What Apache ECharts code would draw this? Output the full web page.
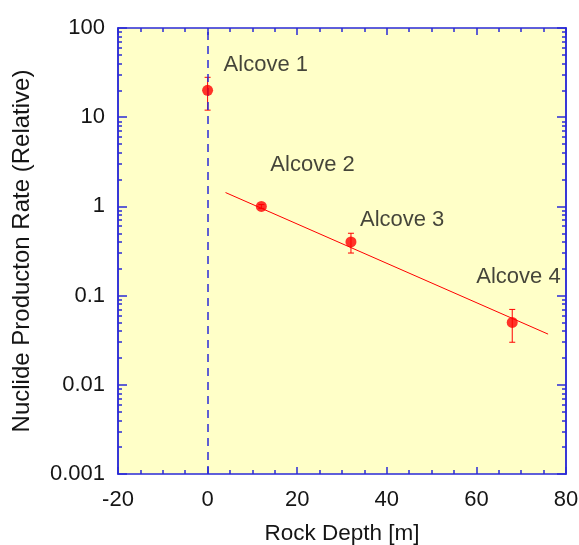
<!DOCTYPE html>
<html>
<head>
<meta charset="utf-8">
<script src="https://cdn.jsdelivr.net/npm/echarts@6/dist/echarts.min.js"></script>
<style>
  html, body { margin: 0; padding: 0; background: #fff; }
  #chart { width: 579px; height: 545px; }
</style>
</head>
<body>
<div id="chart"></div>
<script>
// measured points
const depth = [0, 12, 32, 68];
const rate = [20, 1.0, 0.4, 0.05];
const rateLow = [12, 0.95, 0.3, 0.03];
const rateHigh = [28, 1.05, 0.5, 0.07];
const pointNames = ["Alcove 1", "Alcove 2", "Alcove 3", "Alcove 4"];
// label offsets from the point (px)
const labelOffsets = [[16, -25], [9, -41], [9, -22], [-36, -46]];

// exponential fit line
const fitDepth = [4, 76];
const fitRate = [1.43, 0.037];

// axes
const xMin = -20, xMax = 80, xStep = 20;
const yMin = 0.001, yMax = 100;
const decades = [0.001, 0.01, 0.1, 1, 10];
const minorSteps = [2, 3, 4, 5, 6, 7, 8, 9];

const minorY = [];
decades.forEach(d => minorSteps.forEach(k => minorY.push(+(k * d).toPrecision(3))));

const blue = "#2b2bd6";
const red = "#ff0000";
const font = "'Liberation Sans', Arial, sans-serif";
const textColor = "#151515";

let myChart = echarts.init(document.getElementById("chart"));

function xAxisDef(pos, labels) {
  return {
    type: "value",
    position: pos,
    min: xMin,
    max: xMax,
    interval: xStep,
    name: labels ? "Rock Depth [m]" : "",
    nameLocation: "middle",
    nameGap: 48,
    nameTextStyle: { fontSize: 22.5, color: textColor, fontFamily: font },
    axisLine: { onZero: false, lineStyle: { color: blue, width: 1.5 } },
    axisTick: { inside: true, length: 7, lineStyle: { color: blue, width: 1.5 } },
    minorTick: { show: true, splitNumber: 4, length: 4, lineStyle: { color: blue, width: 1.5 } },
    axisLabel: { show: labels, fontSize: 22, color: textColor, fontFamily: font, margin: 15 },
    splitLine: { show: false },
  };
}

function yAxisDef(pos, major, labels) {
  return {
    type: "log",
    logBase: 10,
    position: pos,
    min: yMin,
    max: yMax,
    name: labels ? "Nuclide Producton Rate (Relative)" : "",
    nameLocation: "middle",
    nameGap: 84,
    nameTextStyle: { fontSize: 24, color: textColor, fontFamily: font },
    axisLine: { onZero: false, lineStyle: { color: blue, width: 1.5 } },
    axisTick: major
      ? { inside: true, length: 9, lineStyle: { color: blue, width: 1.5 } }
      : { inside: true, length: 4, customValues: minorY, lineStyle: { color: blue, width: 1.5 } },
    axisLabel: {
      show: labels,
      fontSize: 22,
      color: textColor,
      fontFamily: font,
      margin: 13,
      padding: [0, 0, 8, 0],
      formatter: v => String(v),
    },
    splitLine: { show: false },
  };
}

myChart.setOption({
  animation: false,
  backgroundColor: "#ffffff",
  grid: {
    left: 118,
    right: 13,
    top: 28,
    bottom: 71,
    outerBoundsMode: "none",
    show: true,
    backgroundColor: "#ffffc8",
    borderWidth: 0,
  },
  xAxis: [xAxisDef("bottom", true), xAxisDef("top", false)],
  yAxis: [
    yAxisDef("left", true, true),
    yAxisDef("left", false, false),
    yAxisDef("right", true, false),
    yAxisDef("right", false, false),
  ],
  series: [
    {
      // dashed reference at zero depth
      type: "line",
      data: [],
      xAxisIndex: 0,
      yAxisIndex: 0,
      markLine: {
        silent: true,
        symbol: "none",
        label: { show: false },
        lineStyle: { color: blue, width: 1.5, type: [8, 6] },
        data: [{ xAxis: 0 }],
      },
    },
    {
      // fit line
      type: "line",
      data: fitDepth.map((d, i) => [d, fitRate[i]]),
      showSymbol: false,
      symbol: "none",
      lineStyle: { color: red, width: 1 },
      z: 3,
    },
    {
      // error bars
      type: "custom",
      data: depth.map((d, i) => [d, rateLow[i], rateHigh[i]]),
      renderItem: (params, api) => {
        const lo = api.coord([api.value(0), api.value(1)]);
        const hi = api.coord([api.value(0), api.value(2)]);
        const w = 3;
        const style = { stroke: red, lineWidth: 1 };
        return {
          type: "group",
          children: [
            { type: "line", shape: { x1: lo[0], y1: lo[1], x2: hi[0], y2: hi[1] }, style },
            { type: "line", shape: { x1: lo[0] - w, y1: lo[1], x2: lo[0] + w, y2: lo[1] }, style },
            { type: "line", shape: { x1: hi[0] - w, y1: hi[1], x2: hi[0] + w, y2: hi[1] }, style },
          ],
        };
      },
      z: 4,
    },
    {
      // points
      type: "scatter",
      symbol: "circle",
      symbolSize: 11,
      itemStyle: { color: red },
      data: depth.map((d, i) => ({
        value: [d, rate[i]],
        label: {
          show: true,
          formatter: pointNames[i],
          position: "inside",
          align: "left",
          verticalAlign: "middle",
          offset: labelOffsets[i],
          fontSize: 22,
          color: textColor,
          fontFamily: font,
        },
      })),
      z: 5,
    },
  ],
});

window.addEventListener("resize", () => {
  myChart.resize();
});
</script>
</body>
</html>
